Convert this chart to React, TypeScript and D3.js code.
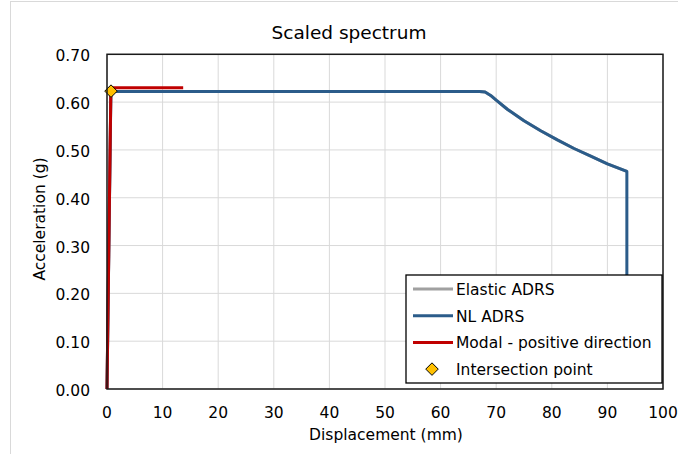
import React, { useEffect, useRef } from 'react';
import * as d3 from 'd3';

// values
const nlDisp = [0, 0.7, 67.0, 68.0, 69.0, 70, 72, 75, 78, 81, 84, 87, 90, 93.5, 93.5];
const nlAcc = [0, 0.622, 0.622, 0.621, 0.614, 0.604, 0.585, 0.561, 0.54, 0.521, 0.503, 0.487, 0.471, 0.455, 0.02];
// elastic curve lies under the NL curve (not visible in the picture)
const elasticDisp = [0, 0.7, 67.0, 68.0, 69.0, 70, 72, 75, 78, 81, 84, 87, 90, 93.5];
const elasticAcc = [0, 0.622, 0.622, 0.621, 0.614, 0.604, 0.585, 0.561, 0.54, 0.521, 0.503, 0.487, 0.471, 0.455];
const modalDisp = [0, 0.7, 13.7];
const modalAcc = [0, 0.63, 0.63];
const pointDisp = [0.72];
const pointAcc = [0.623];

const xTicks = [0, 10, 20, 30, 40, 50, 60, 70, 80, 90, 100];
const yTicks = [0, 0.1, 0.2, 0.3, 0.4, 0.5, 0.6, 0.7];
const legendLabels = ['Elastic ADRS', 'NL ADRS', 'Modal - positive direction', 'Intersection point'];
const legendColors = ['#a0a0a0', '#2b5c8a', '#c00000', '#ffc000'];

const FONT = "'DejaVu Sans', sans-serif";

const App = () => {
  const ref = useRef(null);

  useEffect(() => {
    const width = 678;
    const height = 454;
    const margin = { top: 54.3, right: 15, bottom: 65, left: 107 };

    const svg = d3.select(ref.current);
    svg.selectAll('*').remove();

    const x = d3.scaleLinear().domain([0, 100]).range([margin.left, width - margin.right]);
    const y = d3.scaleLinear().domain([0, 0.7]).range([height - margin.bottom, margin.top]);

    // chart area frame
    svg.append('rect')
      .attr('x', 10.5).attr('y', 1.5)
      .attr('width', 720).attr('height', 520)
      .attr('fill', 'white').attr('stroke', '#d9d9d9');

    // grid
    svg.append('g')
      .selectAll('line')
      .data(xTicks)
      .enter().append('line')
      .attr('x1', (d) => x(d)).attr('x2', (d) => x(d))
      .attr('y1', y(0)).attr('y2', y(0.7))
      .attr('stroke', '#d9d9d9');
    svg.append('g')
      .selectAll('line')
      .data(yTicks)
      .enter().append('line')
      .attr('x1', x(0)).attr('x2', x(100))
      .attr('y1', (d) => y(d)).attr('y2', (d) => y(d))
      .attr('stroke', '#d9d9d9');

    // tick labels
    svg.append('g')
      .selectAll('text')
      .data(xTicks)
      .enter().append('text')
      .attr('x', (d) => x(d)).attr('y', y(0) + 29)
      .attr('text-anchor', 'middle')
      .style('font-family', FONT).style('font-size', '15.5px')
      .text((d) => d);
    svg.append('g')
      .selectAll('text')
      .data(yTicks)
      .enter().append('text')
      .attr('x', 90).attr('y', (d) => y(d) + 7)
      .attr('text-anchor', 'end')
      .style('font-family', FONT).style('font-size', '15.5px')
      .text((d) => d.toFixed(2));

    // series
    const drawLine = (xs, ys, color) => {
      svg.append('path')
        .attr('d', d3.line<number>()
          .x((d) => x(xs[d]))
          .y((d) => y(ys[d]))(d3.range(xs.length)))
        .attr('fill', 'none')
        .attr('stroke', color)
        .attr('stroke-width', 3)
        .attr('stroke-linejoin', 'round');
    };
    drawLine(elasticDisp, elasticAcc, legendColors[0]);
    drawLine(nlDisp, nlAcc, legendColors[1]);
    drawLine(modalDisp, modalAcc, legendColors[2]);

    const diamond = d3.symbol().type(d3.symbolDiamond2).size(100);
    svg.append('g')
      .selectAll('path')
      .data(d3.range(pointDisp.length))
      .enter().append('path')
      .attr('d', diamond)
      .attr('transform', (i) => `translate(${x(pointDisp[i])},${y(pointAcc[i])})`)
      .attr('fill', legendColors[3])
      .attr('stroke', 'black')
      .attr('stroke-width', 1);

    // plot border
    svg.append('rect')
      .attr('x', x(0)).attr('y', y(0.7))
      .attr('width', x(100) - x(0)).attr('height', y(0) - y(0.7))
      .attr('fill', 'none').attr('stroke', '#1a1a1a').attr('stroke-width', 1.5);

    // legend
    const lg = svg.append('g').attr('transform', 'translate(406,275)');
    lg.append('rect')
      .attr('width', 256).attr('height', 108)
      .attr('fill', 'white').attr('stroke', 'black').attr('stroke-width', 1.3);
    legendLabels.forEach((label, i) => {
      const cy = 14 + i * 26.7;
      if (i < 3) {
        lg.append('line')
          .attr('x1', 7).attr('x2', 47).attr('y1', cy).attr('y2', cy)
          .attr('stroke', legendColors[i]).attr('stroke-width', 3);
      } else {
        lg.append('path')
          .attr('d', diamond)
          .attr('transform', `translate(26,${cy})`)
          .attr('fill', legendColors[3]).attr('stroke', 'black').attr('stroke-width', 1);
      }
      lg.append('text')
        .attr('x', 50).attr('y', cy + 6)
        .style('font-family', FONT).style('font-size', '15.5px')
        .text(label);
    });

    // titles
    svg.append('text')
      .attr('x', 349).attr('y', 39)
      .attr('text-anchor', 'middle')
      .style('font-family', FONT).style('font-size', '18.5px')
      .text('Scaled spectrum');
    svg.append('text')
      .attr('x', 386).attr('y', 440)
      .attr('text-anchor', 'middle')
      .style('font-family', FONT).style('font-size', '15.5px')
      .text('Displacement (mm)');
    svg.append('text')
      .attr('transform', `translate(45,219) rotate(-90)`)
      .attr('text-anchor', 'middle')
      .style('font-family', FONT).style('font-size', '15.5px')
      .text('Acceleration (g)');

    return () => {
      svg.selectAll('*').remove();
    };
  }, []);

  return (
    <svg
      ref={ref}
      width={678}
      height={454}
      style={{ position: 'absolute', left: 0, top: 0, background: 'white' }}
    />
  );
};

export default App;
